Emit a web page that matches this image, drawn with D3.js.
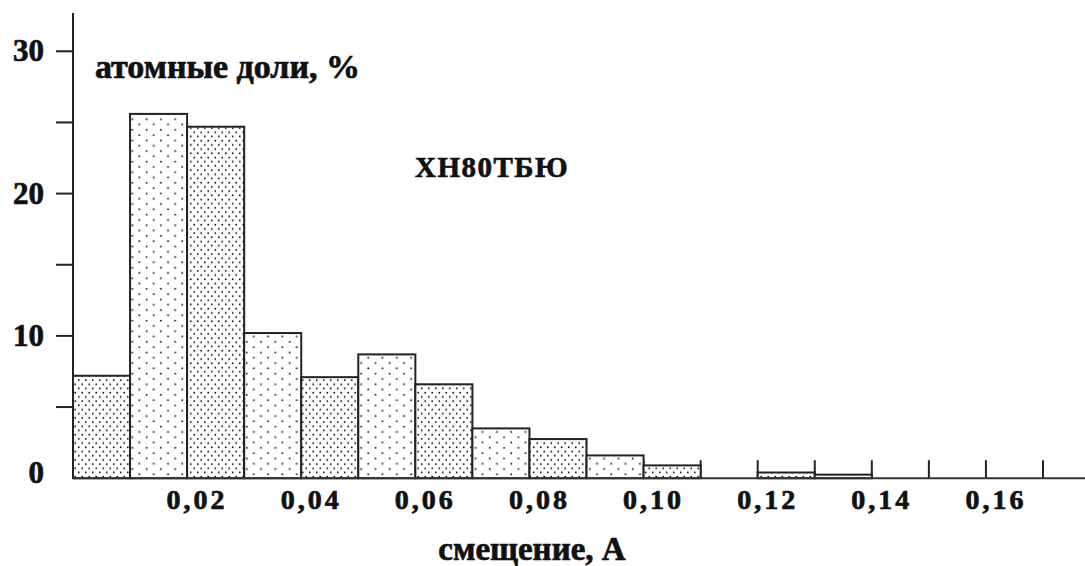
<!DOCTYPE html>
<html>
<head>
<meta charset="utf-8">
<script src="https://cdn.jsdelivr.net/npm/d3@7"></script>
<style>
  html, body { margin: 0; padding: 0; background: #fff; }
  svg { display: block; }
  text {
    font-family: "Liberation Serif", "Times New Roman", serif;
    font-weight: bold;
    fill: #111;
    stroke: #111;
    stroke-width: 0.7px;
  }
</style>
</head>
<body>
<svg id="chart" width="1085" height="566"></svg>
<script>
// Histogram bins: left edge of each 0.01-wide bin and its atomic share, %
const binLefts = [0.00, 0.01, 0.02, 0.03, 0.04, 0.05, 0.06, 0.07, 0.08, 0.09, 0.10, 0.11, 0.12, 0.13];
const shares   = [7.2, 25.6, 24.7, 10.2, 7.1, 8.7, 6.6, 3.5, 2.75, 1.6, 0.9, 0, 0.4, 0.25];
const binWidth = 0.01;

// Axis ticks and labels
const xLabelValues = [0.02, 0.04, 0.06, 0.08, 0.10, 0.12, 0.14, 0.16];
const xLabels      = ["0,02", "0,04", "0,06", "0,08", "0,10", "0,12", "0,14", "0,16"];
const xEdgeTicks   = [0.01, 0.02, 0.03, 0.04, 0.05, 0.06, 0.07, 0.08, 0.09, 0.10, 0.11, 0.12, 0.13, 0.14, 0.15, 0.16, 0.17];
const yLabelValues = [0, 10, 20, 30];
const yTickValues  = [5, 10, 15, 20, 25, 30];

const yTitle = "атомные доли, %";
const xTitle = "смещение, А";
const alloy  = "ХН80ТБЮ";

const W = 1085, H = 566;
const svg = d3.select("#chart");

const x = d3.scaleLinear().domain([0, 0.17]).range([73, 1043]);
const y = d3.scaleLinear().domain([0, 30]).range([478.2, 51.3]);

// Dot-fill patterns: a dense staggered one and a sparse staggered one
const defs = svg.append("defs");
function dotPattern(id, w, h, r) {
  const p = defs.append("pattern")
    .attr("id", id)
    .attr("patternUnits", "userSpaceOnUse")
    .attr("width", w).attr("height", h);
  p.append("rect").attr("width", w).attr("height", h).attr("fill", "#fff");
  [[w * 0.25, h * 0.25], [w * 0.75, h * 0.75]].forEach(([cx, cy]) => {
    p.append("rect")
      .attr("x", cx - r).attr("y", cy - r)
      .attr("width", 2 * r).attr("height", 2 * r)
      .attr("fill", "#111");
  });
}
dotPattern("dense", 7, 8.4, 0.8);
dotPattern("sparse", 14.3, 10.6, 0.8);

const bins = binLefts.map((b, i) => ({ x0: b, x1: b + binWidth, v: shares[i], i }));

// Bin-edge ticks rising from the x axis
svg.append("g").selectAll("line")
  .data(xEdgeTicks)
  .join("line")
  .attr("x1", d => x(d)).attr("x2", d => x(d))
  .attr("y1", y(0)).attr("y2", y(0) - 18)
  .attr("stroke", "#222").attr("stroke-width", 2);

// Bars
svg.append("g").selectAll("rect")
  .data(bins.filter(d => d.v > 0))
  .join("rect")
  .attr("x", d => x(d.x0))
  .attr("y", d => y(d.v))
  .attr("width", d => x(d.x1) - x(d.x0))
  .attr("height", d => y(0) - y(d.v))
  .attr("fill", d => d.i % 2 === 0 ? "url(#dense)" : "url(#sparse)")
  .attr("stroke", "#222")
  .attr("stroke-width", 2);

// Axes
svg.append("line")
  .attr("x1", x(0)).attr("x2", x(0))
  .attr("y1", 13).attr("y2", y(0))
  .attr("stroke", "#222").attr("stroke-width", 2);
svg.append("line")
  .attr("x1", x(0)).attr("x2", W)
  .attr("y1", y(0)).attr("y2", y(0))
  .attr("stroke", "#333").attr("stroke-width", 2);

// Y ticks on the left side of the axis
svg.append("g").selectAll("line")
  .data(yTickValues)
  .join("line")
  .attr("x1", x(0) - 17).attr("x2", x(0))
  .attr("y1", d => y(d)).attr("y2", d => y(d))
  .attr("stroke", "#222").attr("stroke-width", 2);

// Y labels
svg.append("g").selectAll("text")
  .data(yLabelValues)
  .join("text")
  .attr("x", 44)
  .attr("y", d => Math.min(y(d) + 10, y(0) + 5))
  .attr("text-anchor", "end")
  .style("font-size", "31px")
  .text(d => d);

// X labels
svg.append("g").selectAll("text")
  .data(xLabelValues)
  .join("text")
  .attr("x", d => x(d) + 10)
  .attr("y", 509)
  .attr("text-anchor", "middle")
  .style("font-size", "28px")
  .style("letter-spacing", "3px")
  .text((d, i) => xLabels[i]);

// Titles
svg.append("text")
  .attr("x", 95).attr("y", 78)
  .style("font-size", "34px")
  .text(yTitle);

svg.append("text")
  .attr("x", 415).attr("y", 177)
  .style("font-size", "29px")
  .style("letter-spacing", "1.5px")
  .text(alloy);

svg.append("text")
  .attr("x", 532).attr("y", 560)
  .attr("text-anchor", "middle")
  .style("font-size", "33px")
  .text(xTitle);
</script>
</body>
</html>
